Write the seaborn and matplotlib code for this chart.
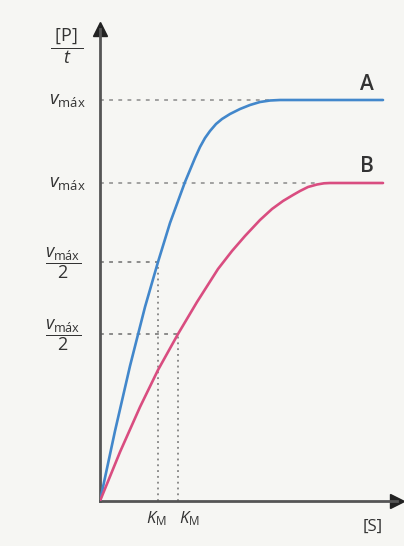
import matplotlib.pyplot as plt
import seaborn as sns
import pandas as pd

# curve A ([S] vs [P]/t)
s_a = [0, 15, 30, 45, 58, 70, 85, 95, 100, 105, 110, 116, 122, 130, 140, 150, 160, 170, 180, 283]
v_a = [0, 70, 135, 194, 239, 278, 319, 343, 354, 363, 370, 377, 382, 387, 392, 396, 399, 400.5, 401, 401]
# curve B
s_b = [0, 20, 40, 58, 78, 97, 118, 132, 145, 160, 172, 183, 193, 200, 208, 217, 224, 230, 283]
v_b = [0, 49, 94, 131, 167, 199, 232, 250, 265, 281, 292, 300, 306, 310, 314, 316.5, 317.7, 318, 318]

curves = ['A', 'B']
vmax = [401, 318]
half = [239, 167]
km = [58, 78]
plateau = [170, 220]

colors = {'A': '#4287cb', 'B': '#d94d80'}
ink = '#333333'

df = pd.concat([
    pd.DataFrame({'S': s_a, 'v': v_a, 'curve': 'A'}),
    pd.DataFrame({'S': s_b, 'v': v_b, 'curve': 'B'}),
])

sns.set_style('white')
plt.rcParams['font.family'] = ['Open Sans', 'DejaVu Sans']
plt.rcParams['mathtext.fontset'] = 'custom'
plt.rcParams['mathtext.rm'] = 'Open Sans'
plt.rcParams['mathtext.it'] = 'Open Sans:italic'

fig = plt.figure(figsize=(4.04, 5.46), dpi=100, facecolor='#f6f6f3')
ax = fig.add_axes([100 / 404, 45 / 546, 297 / 404, 472 / 546])
ax.set_facecolor('#f6f6f3')

# guide lines
for i, c in enumerate(curves):
    ax.plot([0, plateau[i]], [vmax[i], vmax[i]], color='#8a8a8a', lw=1.1,
            dashes=(2.5, 3.5), zorder=1)
    ax.plot([0, km[i]], [half[i], half[i]], color='#6f6f6f', lw=1.1,
            dashes=(2.5, 3.5), zorder=1)
    ax.plot([km[i], km[i]], [0, half[i]], color='#6f6f6f', lw=1.1,
            dashes=(1.2, 2.6), zorder=1)

sns.lineplot(data=df, x='S', y='v', hue='curve', palette=colors, sort=False,
             lw=1.9, legend=False, ax=ax, zorder=3)

ax.set_xlim(0, 297)
ax.set_ylim(0, 472)
ax.set_xticks([])
ax.set_yticks([])
ax.set_xlabel('')
ax.set_ylabel('')
for side in ['top', 'right']:
    ax.spines[side].set_visible(False)
for side in ['left', 'bottom']:
    ax.spines[side].set_color('#555555')
    ax.spines[side].set_linewidth(2.0)
ax.plot(1, 0, marker='>', ms=10, color='#222222', transform=ax.transAxes, clip_on=False)
ax.plot(0, 1, marker='^', ms=10, color='#222222', transform=ax.transAxes, clip_on=False)

ytr = ax.get_yaxis_transform()
xtr = ax.get_xaxis_transform()

ax.text(-0.112, 0.963, r'$\dfrac{\;\mathrm{[P]}\;}{t}$', transform=ax.transAxes,
        ha='center', va='center', fontsize=13, color=ink)
for i, c in enumerate(curves):
    ax.text(-0.11, vmax[i], r'$v_{\mathrm{máx}}$', transform=ytr,
            ha='center', va='center', fontsize=13.5, color=ink)
    ax.text(-0.125, half[i] - 1, r'$\dfrac{v_{\mathrm{máx}}}{2}$', transform=ytr,
            ha='center', va='center', fontsize=13, color=ink)
    ax.text(267, vmax[i] + 16, c, ha='center', va='center', fontsize=15,
            fontweight='semibold', color=ink)

ax.text(km[0] - 2, -0.038, r'$K_{\mathrm{M}}$', transform=xtr, ha='center',
        va='center', fontsize=12, color=ink)
ax.text(km[1] + 11, -0.038, r'$K_{\mathrm{M}}$', transform=xtr, ha='center',
        va='center', fontsize=12, color=ink)
ax.text(273, -0.055, '[S]', transform=xtr, ha='center', va='center',
        fontsize=12, color=ink)

plt.savefig('out.png', dpi=100, facecolor=fig.get_facecolor())
